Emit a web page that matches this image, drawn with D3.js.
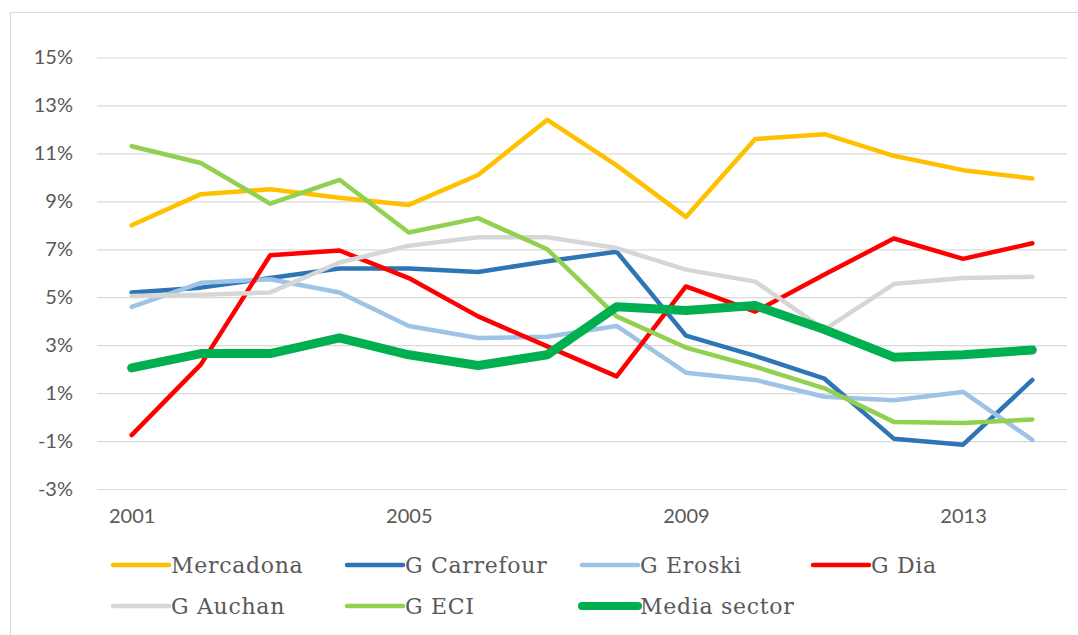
<!DOCTYPE html>
<html>
<head>
<meta charset="utf-8">
<script src="https://cdn.jsdelivr.net/npm/d3@7"></script>
<style>
  body { margin: 0; background: #fff; }
  svg { display: block; }
</style>
</head>
<body>
<svg id="grafico" width="1078" height="635"></svg>
<script>
// datos (% por año)
var anios = [2001, 2002, 2003, 2004, 2005, 2006, 2007, 2008, 2009, 2010, 2011, 2012, 2013, 2014];
var aniosEtiqueta = [2001, 2005, 2009, 2013];
var ticksY = [-3, -1, 1, 3, 5, 7, 9, 11, 13, 15];

var mercadona = [8.0, 9.3, 9.5, 9.15, 8.85, 10.1, 12.4, 10.5, 8.35, 11.6, 11.8, 10.9, 10.3, 9.95];
var carrefour = [5.2, 5.4, 5.8, 6.2, 6.2, 6.05, 6.5, 6.9, 3.4, 2.55, 1.6, -0.9, -1.15, 1.55];
var eroski = [4.6, 5.6, 5.75, 5.2, 3.8, 3.3, 3.35, 3.8, 1.85, 1.55, 0.85, 0.7, 1.05, -0.95];
var dia = [-0.75, 2.2, 6.75, 6.95, 5.8, 4.2, 2.95, 1.7, 5.45, 4.4, 5.95, 7.45, 6.6, 7.25];
var auchan = [5.05, 5.1, 5.2, 6.45, 7.15, 7.5, 7.5, 7.05, 6.15, 5.65, 3.65, 5.55, 5.8, 5.85];
var eci = [11.3, 10.6, 8.9, 9.9, 7.7, 8.3, 7.0, 4.2, 2.9, 2.1, 1.2, -0.2, -0.25, -0.1];
var mediaSector = [2.05, 2.65, 2.65, 3.3, 2.6, 2.15, 2.6, 4.6, 4.45, 4.65, 3.65, 2.5, 2.6, 2.8];

var series = [
    { nombre: "Mercadona", valores: mercadona, color: "#FFC000", grosor: 4.5 },
    { nombre: "G Carrefour", valores: carrefour, color: "#2E75B6", grosor: 4.5 },
    { nombre: "G Eroski", valores: eroski, color: "#9DC3E6", grosor: 4.5 },
    { nombre: "G Dia", valores: dia, color: "#FF0000", grosor: 4.5 },
    { nombre: "G Auchan", valores: auchan, color: "#D6D6D6", grosor: 4.5 },
    { nombre: "G ECI", valores: eci, color: "#92D050", grosor: 4.5 },
    { nombre: "Media sector", valores: mediaSector, color: "#00B050", grosor: 9 }
];

var svg = d3.select("#grafico");
var izq = 97, der = 1067, arriba = 57.5, abajo = 489;

// marco del gráfico
svg.append("rect")
    .attr("x", 10.5).attr("y", 12.5)
    .attr("width", 1100).attr("height", 700)
    .attr("fill", "none")
    .attr("stroke", "#D9D9D9")
    .attr("stroke-width", 1);

var x = d3.scalePoint().domain(anios).range([izq, der]).padding(0.5);
var y = d3.scaleLinear().domain([-3, 15]).range([abajo, arriba]);

// líneas de cuadrícula
svg.append("g")
    .attr("transform", "translate(" + izq + ",0)")
    .call(d3.axisLeft(y).tickValues(ticksY).tickSize(-(der - izq)).tickFormat(""))
    .call(g => g.select(".domain").remove())
    .call(g => g.selectAll("line").attr("stroke", "#D9D9D9").attr("stroke-width", 1.2));

// eje Y
svg.append("g")
    .attr("transform", "translate(" + izq + ",0)")
    .call(d3.axisLeft(y).tickValues(ticksY).tickSize(0).tickPadding(24).tickFormat(d => d + "%"))
    .call(g => g.select(".domain").remove())
    .call(g => g.selectAll("text")
        .attr("fill", "#595959")
        .style("font-family", "Lato, 'Open Sans', sans-serif")
        .style("font-size", "20px"));

// eje X
svg.append("g")
    .attr("transform", "translate(0," + abajo + ")")
    .call(d3.axisBottom(x).tickValues(aniosEtiqueta).tickSize(0).tickPadding(20))
    .call(g => g.select(".domain").remove())
    .call(g => g.selectAll("text")
        .attr("fill", "#595959")
        .style("font-family", "Lato, 'Open Sans', sans-serif")
        .style("font-size", "20px"));

var linea = d3.line()
    .x((d, i) => x(anios[i]))
    .y(d => y(d));

svg.append("g").selectAll("path")
    .data(series)
    .enter().append("path")
    .attr("d", d => linea(d.valores))
    .attr("fill", "none")
    .attr("stroke", d => d.color)
    .attr("stroke-width", d => d.grosor)
    .attr("stroke-linejoin", "round")
    .attr("stroke-linecap", "round");

// leyenda
var leyendaX = [113, 347, 582, 813];
var leyendaY = [565, 606];
var leyenda = svg.append("g").selectAll("g")
    .data(series)
    .enter().append("g")
    .attr("transform", (d, i) => "translate(" + leyendaX[i % 4] + "," + leyendaY[Math.floor(i / 4)] + ")");

leyenda.append("line")
    .attr("x1", 0).attr("x2", 56)
    .attr("stroke", d => d.color)
    .attr("stroke-width", d => d.grosor === 9 ? 8 : 4.5)
    .attr("stroke-linecap", "round");

leyenda.append("text")
    .attr("x", 58)
    .attr("y", 7.5)
    .attr("fill", "#595959")
    .style("font-family", "'DejaVu Serif', serif")
    .style("font-size", "22px")
    .style("letter-spacing", "0.7px")
    .text(d => d.nombre);
</script>
</body>
</html>
